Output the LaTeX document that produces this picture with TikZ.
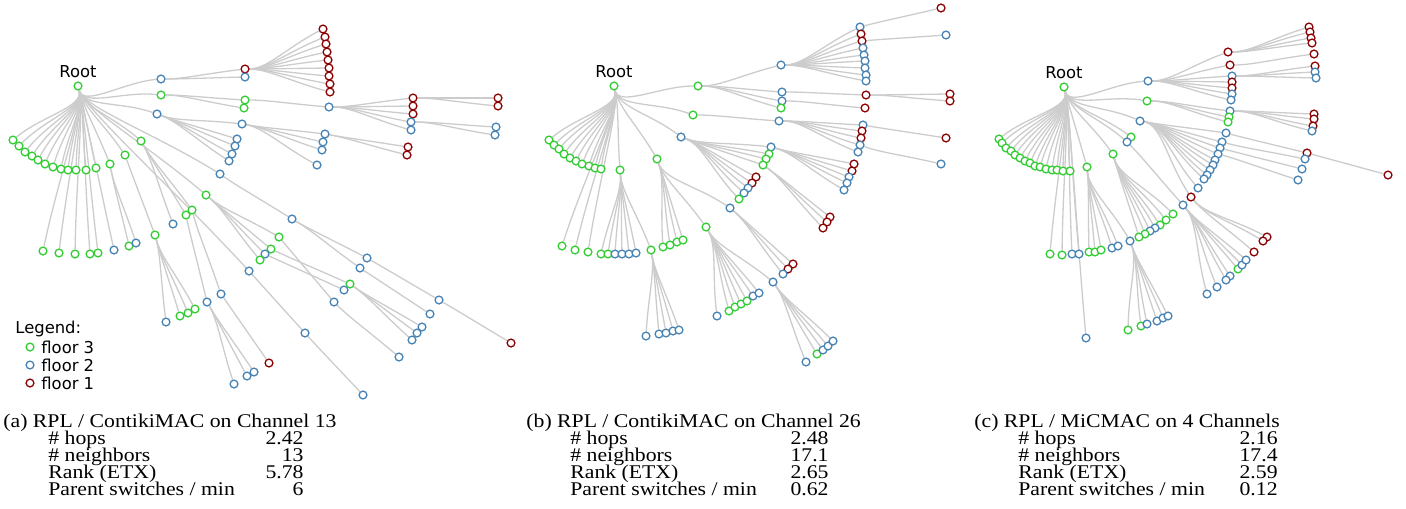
\documentclass[tikz,border=0pt]{standalone}
\usepackage{fontspec}
\setmainfont{Liberation Serif}
\newfontfamily\captfont[FakeStretch=1.12]{Liberation Serif}
\newfontfamily\dejavu{DejaVu Sans}
\usetikzlibrary{positioning,calc,backgrounds}
\definecolor{floorthree}{RGB}{50,205,50}
\definecolor{floortwo}{RGB}{70,130,180}
\definecolor{floorone}{RGB}{139,0,0}
\newcommand\tightlines{\lineskiplimit-100pt\relax}

\begin{document}
\begin{tikzpicture}[x=0.5pt, y=-0.5pt,
  mote/.style={circle, draw, fill=white, line width=0.65pt, inner sep=0pt, minimum size=3.9pt},
  fl3/.style={mote, draw=floorthree},
  fl2/.style={mote, draw=floortwo},
  fl1/.style={mote, draw=floorone},
  link/.style={draw=black!20, line width=0.65pt},
  lbl/.style={font=\dejavu\fontsize{8.2}{9.8}\selectfont, inner sep=0pt},
  capt/.style={font=\captfont\fontsize{9.7}{8.35}\selectfont\tightlines, inner sep=0pt},
  tab/.style={capt, align=left}]
\useasboundingbox (0,0) rectangle (1406,508);

% (a) ContikiMAC, channel 13
\foreach \n/\x/\y/\s in {a0/78/86/fl3, a1/161/79/fl2, a2/161/95/fl3, a3/157/114/fl2,
  a4/13/140/fl3, a5/19/146/fl3, a6/25/152/fl3, a7/32/156/fl3, a8/38/160/fl3, a9/45/164/fl3,
  a10/53/167/fl3, a11/61/169/fl3, a12/68/170/fl3, a13/76/170/fl3, a14/86/170/fl3, a15/96/168/fl3,
  a16/141/141/fl3, a17/125/155/fl3, a18/110/164/fl3,
  a19/43/251/fl3, a20/59/253/fl3, a21/75/254/fl3, a22/90/254/fl3, a23/98/253/fl3, a24/114/250/fl2,
  a25/129/246/fl3, a26/136/243/fl2, a27/206/195/fl3, a28/220/174/fl2, a29/249/271/fl2,
  a30/245/69/fl1, a31/245/77/fl2,
  a32/323/29/fl1, a33/325/37/fl1, a34/326/44/fl1, a35/327/52/fl1, a36/328/60/fl1,
  a37/329/68/fl1, a38/329/76/fl1, a39/330/84/fl1, a40/330/92/fl1,
  a41/245/100/fl3, a42/244/108/fl3, a43/329/107/fl2,
  a44/413/98/fl1, a45/413/106/fl1, a46/413/114/fl1, a47/411/122/fl2, a48/411/130/fl2,
  a49/498/98/fl1, a50/498/106/fl1, a51/496/127/fl2, a52/495/135/fl2,
  a53/242/124/fl2, a54/237/139/fl2, a55/235/146/fl2, a56/232/154/fl2, a57/229/161/fl2,
  a58/325/134/fl2, a59/323/142/fl2, a60/322/150/fl2, a61/317/165/fl2,
  a62/408/147/fl1, a63/407/155/fl1,
  a64/173/224/fl2, a65/186/215/fl3, a66/192/210/fl3,
  a67/155/235/fl3, a68/166/322/fl2, a69/180/316/fl3, a70/188/313/fl3, a71/195/309/fl3,
  a72/279/237/fl3, a73/271/249/fl3, a74/265/254/fl2, a75/260/260/fl3,
  a76/334/302/fl2, a77/350/284/fl3, a78/344/290/fl2,
  a79/422/327/fl2, a80/417/333/fl2, a81/412/340/fl2, a82/399/357/fl2,
  a83/292/219/fl2, a84/367/258/fl2, a85/360/268/fl2, a86/439/300/fl2, a87/511/343/fl1, a88/430/314/fl2,
  a89/305/333/fl2, a90/363/395/fl2, a91/221/294/fl2, a92/269/363/fl1,
  a93/207/302/fl2, a94/254/372/fl2, a95/247/376/fl2, a96/234/384/fl2}
  \node[\s] (\n) at (\x,\y) {};

% (b) ContikiMAC, channel 26
\foreach \n/\x/\y/\s in {b0/614/86/fl3, b1/698/86/fl3, b2/693/115/fl3, b3/681/137/fl2, b4/657/159/fl3, b5/620/170/fl3,
  b6/549/140/fl3, b7/554/145/fl3, b8/559/149/fl3, b9/564/154/fl3, b10/570/158/fl3,
  b11/576/161/fl3, b12/582/164/fl3, b13/589/166/fl3, b14/595/168/fl3, b15/601/169/fl3,
  b16/562/246/fl3, b17/575/250/fl3, b18/588/252/fl3,
  b19/781/65/fl2, b20/782/92/fl2, b21/782/101/fl2, b22/781/108/fl3,
  b23/860/27/fl2, b24/861/34/fl1, b25/862/41/fl1, b26/863/48/fl2, b27/864/55/fl2,
  b28/865/61/fl2, b29/865/68/fl2, b30/866/75/fl2, b31/866/81/fl2,
  b32/941/8/fl1, b33/946/35/fl2, b34/866/95/fl1, b35/950/94/fl1, b36/950/101/fl1, b37/865/108/fl1,
  b38/779/121/fl2, b39/863/125/fl2, b40/862/131/fl1, b41/861/138/fl1, b42/860/145/fl2, b43/858/152/fl2,
  b44/946/138/fl1, b45/941/164/fl2,
  b46/771/147/fl2, b47/769/154/fl3, b48/766/159/fl3, b49/763/165/fl3, b50/756/177/fl1,
  b51/752/183/fl1, b52/748/188/fl2, b53/744/193/fl2, b54/739/199/fl3,
  b55/854/164/fl1, b56/852/171/fl1, b57/849/177/fl2, b58/847/183/fl2, b59/844/190/fl2,
  b60/830/217/fl1, b61/827/222/fl1, b62/823/228/fl1,
  b63/730/208/fl2, b64/706/227/fl3, b65/663/247/fl3, b66/670/245/fl3, b67/677/242/fl3, b68/683/240/fl3,
  b69/793/264/fl1, b70/788/269/fl1, b71/783/274/fl2,
  b72/773/282/fl2, b73/717/316/fl2, b74/729/311/fl3, b75/735/307/fl3, b76/741/304/fl3,
  b77/747/301/fl3, b78/753/296/fl2, b79/759/293/fl2,
  b80/806/362/fl2, b81/817/354/fl3, b82/823/350/fl2, b83/828/346/fl2, b84/833/341/fl2,
  b85/601/254/fl3, b86/608/254/fl3, b87/615/254/fl2, b88/622/254/fl2, b89/629/254/fl2, b90/636/253/fl2, b91/651/250/fl3,
  b92/646/336/fl2, b93/659/334/fl2, b94/666/333/fl2, b95/673/331/fl2, b96/679/330/fl2}
  \node[\s] (\n) at (\x,\y) {};

% (c) MiCMAC, 4 channels
\foreach \n/\x/\y/\s in {c0/1064/87/fl3, c1/1148/81/fl2, c2/1147/101/fl3, c3/1140/121/fl2,
  c4/1131/137/fl3, c5/1127/142/fl2, c6/1113/154/fl3, c7/1087/167/fl3,
  c8/999/139/fl3, c9/1002/143/fl3, c10/1006/148/fl3, c11/1011/151/fl3, c12/1015/155/fl3,
  c13/1020/158/fl3, c14/1025/161/fl3, c15/1030/163/fl3, c16/1035/166/fl3, c17/1040/167/fl3,
  c18/1046/169/fl3, c19/1052/170/fl3, c20/1057/170/fl3, c21/1063/171/fl3, c22/1070/171/fl3,
  c23/1050/254/fl3, c24/1062/255/fl3, c25/1072/254/fl2, c26/1079/254/fl2, c27/1086/338/fl2,
  c28/1228/52/fl1, c29/1230/65/fl1, c30/1232/76/fl2, c31/1232/82/fl1, c32/1232/88/fl1, c33/1232/94/fl2, c34/1231/100/fl2,
  c35/1309/27/fl1, c36/1310/32/fl1, c37/1311/38/fl1, c38/1312/43/fl1, c39/1314/54/fl1,
  c40/1315/66/fl1, c41/1315/72/fl2, c42/1316/78/fl2,
  c43/1230/111/fl2, c44/1229/117/fl3, c45/1228/122/fl3,
  c46/1314/114/fl1, c47/1314/119/fl1, c48/1313/126/fl1, c49/1312/131/fl2,
  c50/1226/133/fl2, c51/1222/142/fl2, c52/1220/148/fl2, c53/1218/154/fl2, c54/1215/160/fl2,
  c55/1213/165/fl2, c56/1210/170/fl2, c57/1207/175/fl2, c58/1204/179/fl2, c59/1198/188/fl2, c60/1191/197/fl1,
  c61/1307/153/fl1, c62/1388/175/fl1, c63/1305/159/fl2, c64/1302/169/fl2, c65/1298/180/fl2,
  c66/1267/237/fl1, c67/1263/241/fl1, c68/1254/252/fl1, c69/1183/205/fl2,
  c72/1238/269/fl3, c71/1242/265/fl2, c70/1246/260/fl2, c73/1230/276/fl2, c74/1226/280/fl2, c75/1217/287/fl2, c76/1207/294/fl2,
  c77/1173/214/fl3, c78/1166/220/fl3, c79/1160/225/fl3, c80/1155/228/fl2, c81/1150/231/fl2, c82/1145/234/fl3, c83/1139/237/fl3,
  c84/1089/252/fl3, c85/1095/252/fl3, c86/1101/250/fl3, c87/1112/248/fl2, c88/1118/246/fl2, c89/1130/241/fl2,
  c90/1128/330/fl3, c91/1141/326/fl3, c92/1147/324/fl2, c93/1157/321/fl2, c94/1163/318/fl2, c95/1168/316/fl2}
  \node[\s] (\n) at (\x,\y) {};

% parent -> children, leaving the parent at the given angle
\begin{pgfonlayer}{background}
\foreach \p/\o/\kids in {
  a0/75/{a1,a2,a3,a4,a5,a6,a7,a8,a9,a10,a11,a12,a13,a14,a15,a16,a17,a18,a19,a20,a21,a22,a23,a24,a27,a28,a29},
  a1/0/{a30,a31}, a30/0/{a32,a33,a34,a35,a36,a37,a38,a39,a40}, a2/0/{a41,a42}, a41/0/{a43},
  a43/0/{a44,a45,a46,a47,a48}, a44/0/{a49,a50}, a47/0/{a51,a52},
  a3/20/{a53,a54,a55,a56,a57}, a53/10/{a58,a59,a60,a61}, a58/10/{a62,a63},
  a16/60/{a64,a65,a66}, a17/70/{a67}, a18/80/{a25,a26}, a67/75/{a68,a69,a70,a71},
  a27/40/{a72,a73,a74,a75}, a72/50/{a76}, a73/25/{a77}, a74/25/{a78}, a77/35/{a79,a80,a81}, a76/45/{a82},
  a28/35/{a83}, a83/30/{a84,a85}, a84/30/{a86}, a86/30/{a87}, a85/33/{a88},
  a29/48/{a89}, a89/48/{a90}, a66/75/{a91}, a91/55/{a92}, a65/78/{a93}, a93/60/{a94,a95,a96},
  b0/77/{b1,b2,b3,b4,b5,b6,b7,b8,b9,b10,b11,b12,b13,b14,b15,b16,b17,b18},
  b1/0/{b19,b20,b21,b22}, b19/0/{b23,b24,b25,b26,b27,b28,b29,b30,b31}, b23/-15/{b32}, b25/-5/{b33},
  b20/0/{b34}, b34/0/{b35,b36}, b21/0/{b37},
  b2/0/{b38}, b38/0/{b39,b40,b41,b42,b43}, b39/10/{b44}, b42/20/{b45},
  b3/20/{b46,b47,b48,b49,b50,b51,b52,b53,b54}, b46/15/{b55,b56,b57,b58,b59}, b49/35/{b60,b61,b62},
  b4/70/{b63,b64,b65,b66,b67,b68}, b63/40/{b69,b70,b71}, b64/60/{b72,b73,b74,b75,b76,b77,b78,b79},
  b72/55/{b80,b81,b82,b83,b84}, b5/85/{b85,b86,b87,b88,b89,b90,b91}, b91/80/{b92,b93,b94,b95,b96},
  c0/75/{c1,c2,c3,c4,c5,c6,c7,c8,c9,c10,c11,c12,c13,c14,c15,c16,c17,c18,c19,c20,c21,c22,c23,c24,c25,c26,c27},
  c1/0/{c28,c29,c30,c31,c32,c33,c34}, c28/0/{c35,c36,c37,c38}, c29/0/{c39}, c30/0/{c40,c41,c42},
  c2/0/{c43,c44,c45}, c43/0/{c46,c47,c48,c49},
  c3/10/{c50,c51,c52,c53,c54,c55,c56,c57,c58,c59,c60}, c50/15/{c61}, c61/15/{c62},
  c51/15/{c63}, c52/15/{c64}, c53/15/{c65}, c60/50/{c66,c67,c68},
  c5/45/{c69}, c69/50/{c70,c71,c72,c73,c74,c75,c76},
  c6/75/{c77,c78,c79,c80,c81,c82,c83}, c7/85/{c84,c85,c86,c87,c88,c89}, c89/70/{c90,c91,c92,c93,c94,c95}}
  \foreach \k in \kids
    \draw[link] (\p) .. controls +(\o:22) and ($(\k)!0.45!(\p)$) .. (\k);
\end{pgfonlayer}

\foreach \r in {a0,b0,c0}
  \node[lbl, above=1.75pt of \r] (\r-root) {Root};

% legend
\node[lbl, anchor=base west] (legend) at (15,333) {Legend:};
\foreach \s/\y/\t [count=\i] in {fl3/347/floor 3, fl2/365/floor 2, fl1/383/floor 1} {
  \node[\s] (key\i) at (30,\y) {};
  \node[lbl, anchor=west] (keytext\i) at (41,\y) {\t};
}

% captions and statistics (base = last line)
\node[capt, anchor=base west] (capa) at (3,427) {(a) RPL / ContikiMAC on Channel 13};
\node[tab, anchor=base west] (keysa) at (48,495) {\# hops\\\# neighbors\\Rank (ETX)\\Parent switches / min};
\node[tab, align=right, anchor=base east] (valsa) at (304,495) {2.42\\13\\5.78\\6};

\node[capt, anchor=base west] (capb) at (526,427) {(b) RPL / ContikiMAC on Channel 26};
\node[tab, anchor=base west] (keysb) at (570,495) {\# hops\\\# neighbors\\Rank (ETX)\\Parent switches / min};
\node[tab, align=right, anchor=base east] (valsb) at (829,495) {2.48\\17.1\\2.65\\0.62};

\node[capt, anchor=base west] (capc) at (974,427) {(c) RPL / MiCMAC on 4 Channels};
\node[tab, anchor=base west] (keysc) at (1018,495) {\# hops\\\# neighbors\\Rank (ETX)\\Parent switches / min};
\node[tab, align=right, anchor=base east] (valsc) at (1278,495) {2.16\\17.4\\2.59\\0.12};
\end{tikzpicture}
\end{document}
